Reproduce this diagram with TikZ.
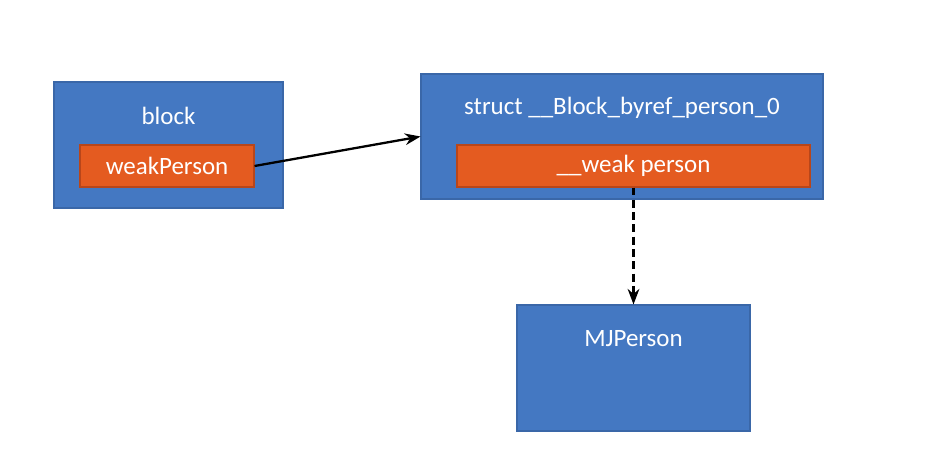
\documentclass[tikz,border=0pt]{standalone}
\usepackage{fontspec}
\setmainfont{Carlito}
\usetikzlibrary{arrows.meta}

\definecolor{boxblue}{HTML}{4478C2}
\definecolor{boxedge}{HTML}{3A67A8}
\definecolor{fieldorange}{HTML}{E45B20}
\definecolor{fieldedge}{HTML}{B8461A}

\begin{document}
\begin{tikzpicture}[>=Stealth,
    outer/.style={draw=boxedge, fill=boxblue, line width=0.6pt, inner sep=0pt},
    field/.style={draw=fieldedge, fill=fieldorange, line width=0.6pt, text=white, font=\fontsize{14.2}{16}\selectfont, inner sep=0pt},
    title/.style={text=white, font=\fontsize{14.2}{16}\selectfont, inner sep=0pt}]
    \useasboundingbox[fill=white] (0,0) rectangle (18.54,-9.18);

    % Boxes
    \node[outer, minimum width=4.58cm, minimum height=2.52cm] (blk) at (3.37,-2.9) {};
    \node[outer, minimum width=8.04cm, minimum height=2.5cm] (byref) at (12.44,-2.73) {};
    \node[outer, minimum width=4.66cm, minimum height=2.52cm] (mj) at (12.67,-7.36) {};

    % Titles
    \node[title] (blkname) at (3.37,-2.32) {block};
    \node[title] (byrefname) at (12.44,-2.16) {struct \_\_Block\_byref\_person\_0};
    \node[title] (mjname) at (12.67,-6.78) {MJPerson};

    % Fields
    \node[field, minimum width=3.48cm, minimum height=0.84cm] (wp) at (3.34,-3.32) {weakPerson};
    \node[field, minimum width=7.06cm, minimum height=0.84cm] (wk) at (12.67,-3.32) {\_\_weak person};

    % Pointers
    \draw[->, line width=1.3pt] (wp.east) -- (byref.west);
    \draw[->, line width=1.3pt, dash pattern=on 4.5pt off 2.5pt] (wk.south) -- (mj.north);
\end{tikzpicture}
\end{document}
